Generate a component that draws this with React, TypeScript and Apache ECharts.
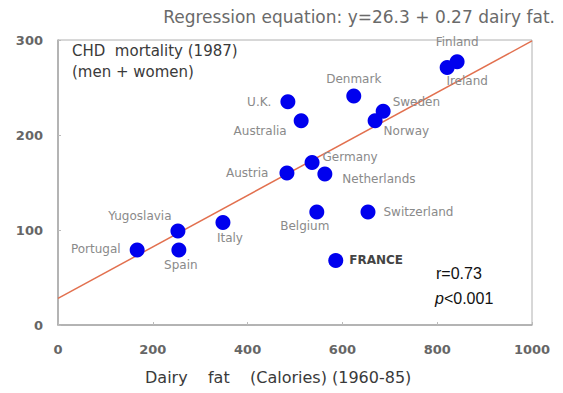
import React, { useEffect, useRef } from "react";
import * as echarts from "echarts";

const countries = [
  "Portugal", "Yugoslavia", "Spain", "Italy", "Austria", "U.K.", "Australia",
  "Germany", "Netherlands", "Belgium", "Switzerland", "FRANCE", "Denmark",
  "Sweden", "Norway", "Finland", "Ireland",
];
const dairyFat = [167, 253, 255, 348, 483, 485, 513, 536, 563, 546, 654, 586, 624, 686, 669, 842, 821];
const chdMortality = [79, 99, 79, 108, 160, 235, 215, 171, 159, 119, 119, 68, 241, 225, 215, 277, 271];

const regressionX = [0, 1000];
const regressionY = [28, 299];

const xTicks = [0, 200, 400, 600, 800, 1000];
const yTicks = [0, 100, 200, 300];

// label placement (styling only)
const labelPlacement: Record<string, { position: string; distance: number; offset: [number, number] }> = {
  Portugal: { position: "left", distance: 9, offset: [0, -1] },
  Yugoslavia: { position: "top", distance: 1, offset: [-38, 0] },
  Spain: { position: "bottom", distance: 2, offset: [2, 0] },
  Italy: { position: "bottom", distance: 2, offset: [7, 0] },
  Austria: { position: "left", distance: 11, offset: [0, 0] },
  "U.K.": { position: "left", distance: 9, offset: [0, 0] },
  Australia: { position: "left", distance: 7, offset: [0, 10] },
  Germany: { position: "right", distance: 3, offset: [0, -6] },
  Netherlands: { position: "right", distance: 10, offset: [0, 5] },
  Belgium: { position: "bottom", distance: 1, offset: [-12, 0] },
  Switzerland: { position: "right", distance: 8, offset: [0, 0] },
  FRANCE: { position: "right", distance: 6, offset: [0, 0] },
  Denmark: { position: "top", distance: 4, offset: [0, 0] },
  Sweden: { position: "right", distance: 2, offset: [0, -9] },
  Norway: { position: "right", distance: 1, offset: [0, 10] },
  Finland: { position: "top", distance: 6, offset: [0, 0] },
  Ireland: { position: "bottom", distance: 0, offset: [20, 0] },
};

export default function App() {
  const ref = useRef<HTMLDivElement>(null);
  useEffect(() => {
    if (!ref.current) return;
    const chart = echarts.init(ref.current, null, { renderer: "svg" });
    const scatterData = countries.map((c, i) => {
      const p = labelPlacement[c];
      return {
        name: c,
        value: [dairyFat[i], chdMortality[i]],
        label: {
          show: true,
          formatter: c,
          position: p.position,
          distance: p.distance,
          offset: p.offset,
          color: c === "FRANCE" ? "#444" : "#8a8a8a",
          fontWeight: c === "FRANCE" ? "bold" : "normal",
          fontSize: 12,
          fontFamily: "DejaVu Sans",
        },
      };
    });
    const axisLabelStyle = {
      color: "#666",
      fontSize: 13,
      fontWeight: "bold",
      fontFamily: "DejaVu Sans",
      formatter: (v: number) => String(v),
    };
    chart.setOption({
      animation: false,
      grid: {
        left: 58,
        right: 31,
        top: 40,
        bottom: 68,
        show: true,
        borderColor: "#b0b0b0",
        borderWidth: 1,
        backgroundColor: "transparent",
      },
      xAxis: {
        type: "value",
        min: xTicks[0],
        max: xTicks[xTicks.length - 1],
        interval: 200,
        axisLine: { show: true, lineStyle: { color: "#a8a8a8", width: 1.5 } },
        axisTick: { show: true, inside: true, length: 3, lineStyle: { color: "#bbb" } },
        splitLine: { show: false },
        axisLabel: { ...axisLabelStyle, margin: 18 },
      },
      yAxis: {
        type: "value",
        min: yTicks[0],
        max: yTicks[yTicks.length - 1],
        interval: 100,
        axisLine: { show: true, lineStyle: { color: "#a8a8a8", width: 1.5 } },
        axisTick: { show: true, inside: true, length: 3, lineStyle: { color: "#bbb" } },
        splitLine: { show: false },
        axisLabel: { ...axisLabelStyle, margin: 15 },
      },
      series: [
        {
          type: "line",
          data: regressionX.map((x, i) => [x, regressionY[i]]),
          symbol: "none",
          lineStyle: { color: "#e2704f", width: 1.5 },
          silent: true,
          z: 1,
        },
        {
          type: "scatter",
          data: scatterData,
          symbol: "circle",
          symbolSize: 15,
          itemStyle: { color: "#0000ee", opacity: 1 },
          z: 3,
        },
      ],
      graphic: [
        {
          type: "text",
          right: 8,
          top: 8,
          style: {
            text: "Regression equation: y=26.3 + 0.27 dairy fat.",
            fill: "#6a6a6a",
            fontSize: 17,
            fontFamily: "DejaVu Sans",
          },
        },
        {
          type: "text",
          left: 72,
          top: 40,
          style: {
            text: "CHD  mortality (1987)\n(men + women)",
            fill: "#3a3a3a",
            fontSize: 15,
            lineHeight: 21,
            fontFamily: "DejaVu Sans",
          },
        },
        {
          type: "text",
          left: 145,
          top: 369,
          style: {
            text: "Dairy    fat    (Calories) (1960-85)",
            fill: "#3a3a3a",
            fontSize: 16,
            fontFamily: "DejaVu Sans",
          },
        },
        {
          type: "text",
          left: 436,
          top: 265,
          style: {
            text: "r=0.73",
            fill: "#111",
            fontSize: 16,
            fontFamily: "Liberation Sans",
          },
        },
        {
          type: "text",
          left: 435,
          top: 290,
          style: {
            text: "{i|p}<0.001",
            fill: "#111",
            fontSize: 16,
            fontFamily: "Liberation Sans",
            rich: {
              i: { fontStyle: "italic", fontSize: 16, fontFamily: "Liberation Sans", fill: "#111" },
            },
          },
        },
      ],
    });
    return () => chart.dispose();
  }, []);
  return (
    <div
      ref={ref}
      style={{ position: "fixed", left: 0, top: 0, width: 563, height: 393, background: "#fff" }}
    />
  );
}
